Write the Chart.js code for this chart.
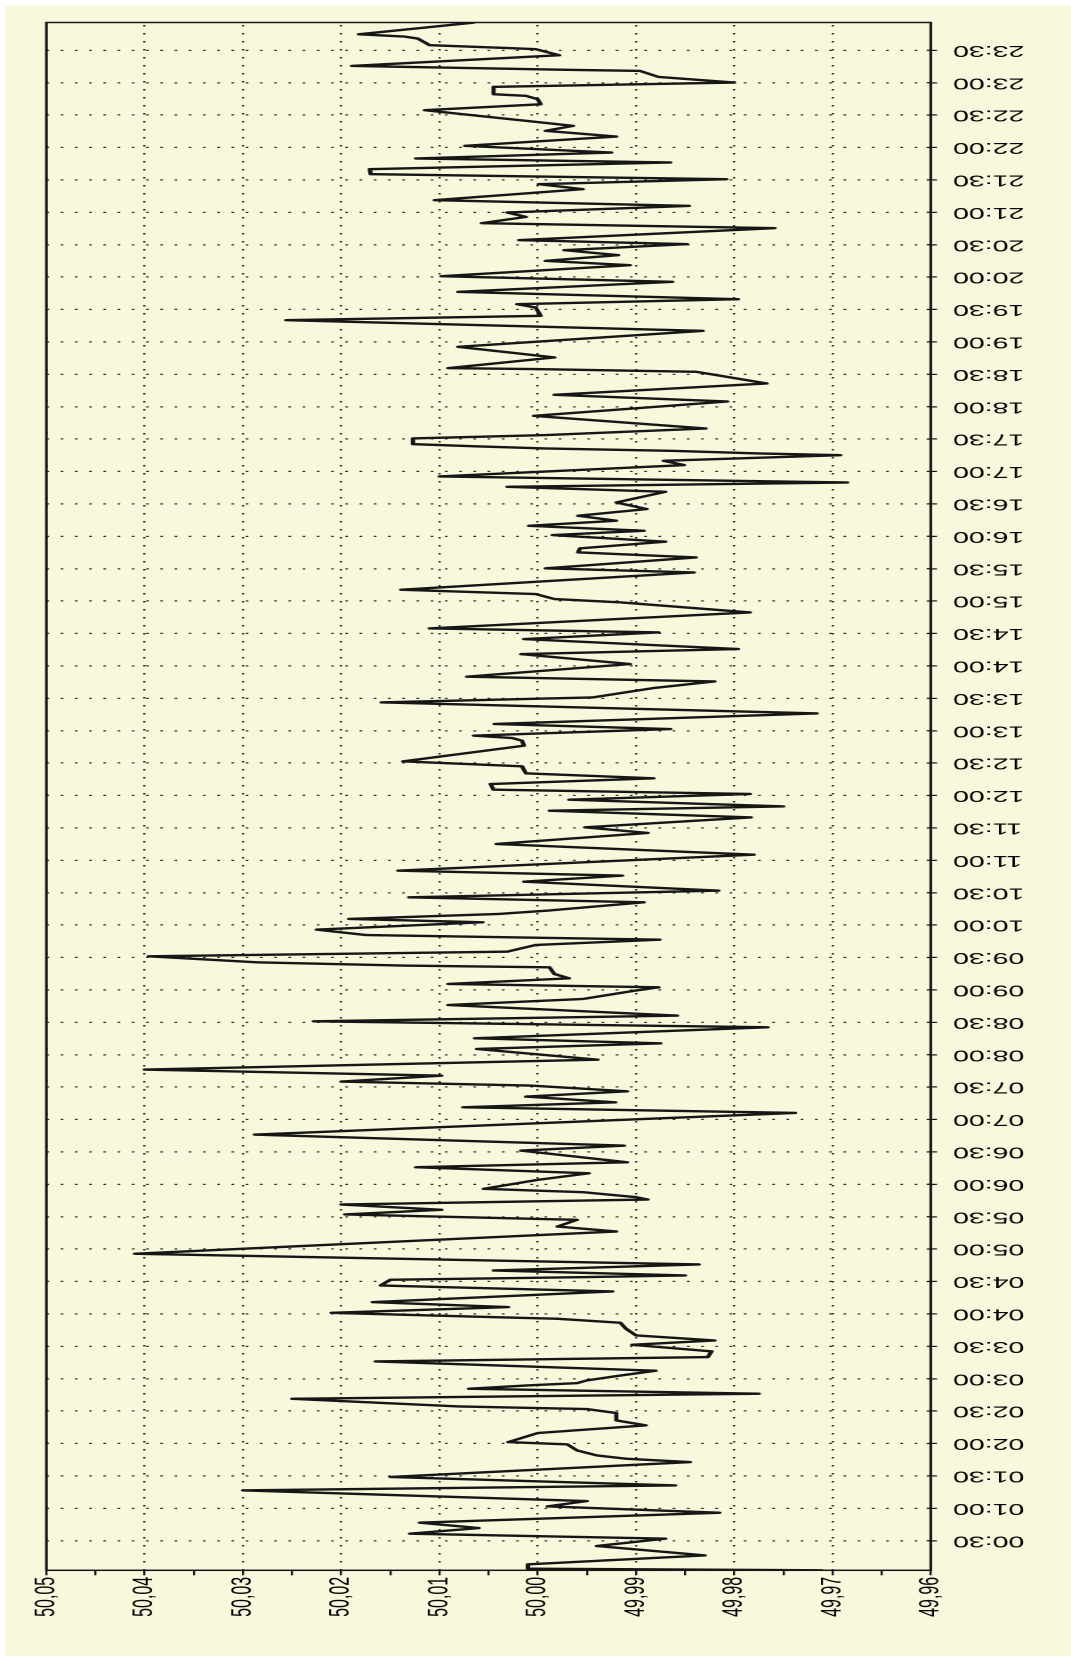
<!DOCTYPE html>
<html>
<head>
<meta charset="utf-8">
<script src="https://cdn.jsdelivr.net/npm/chart.js@4.4.1/dist/chart.umd.min.js"></script>
<style>
  html, body { margin: 0; padding: 0; background: #ffffff; width: 1071px; height: 1656px; overflow: hidden; }
  #paper { position: absolute; left: 5px; top: 6px; width: 1066px; height: 1650px; background: #F8F8DC; }
  /* the chart is laid out landscape and turned a quarter turn, stretched across the page width */
  #turn { position: absolute; left: 0; top: 0; width: 1656px; height: 602px;
          transform-origin: 0 0; transform: matrix(0, -1, 1.779, 0, 0, 1656); }
  canvas { display: block; }
</style>
</head>
<body>
<div id="paper"></div>
<div id="turn"><canvas id="c" width="1656" height="602"></canvas></div>
<script>
// Grid frequency over the day: sample time (minutes after midnight) and frequency in Hz
const minutes = [
  2.6, 4.1, 8.1, 16.4, 25.1, 31.9, 36.5, 41.7, 46.7, 55.9,
  61.8, 66.7, 76.6, 81.2, 89.0, 102.8, 105.9, 109.0, 113.6, 119.2,
  121.3, 129.7, 136.8, 141.4, 148.2, 151.9, 154.3, 159.3, 161.4, 166.1,
  170.7, 173.8, 175.9, 178.4,
  182.4, 187.4, 196.0, 200.0, 205.3, 211.4, 215.4, 220.1, 226.2, 231.8,
  235.5, 237.0, 241.0, 246.3, 250.9, 260.8, 266.3, 271.6, 274.1, 275.6,
  280.2, 285.8, 295.7, 316.3, 320.9, 327.1, 332.1, 336.4, 341.3, 345.9,
  348.1, 352.7, 355.8,
  364.1, 370.2, 375.8, 380.4, 391.2, 395.8, 406.0, 426.1, 431.3, 435.9,
  441.2, 446.1, 451.4, 455.1, 460.6, 466.2, 475.4, 485.3, 490.5, 495.2,
  505.4, 510.9, 516.2, 526.0, 531.6, 539.3,
  542.4, 545.5, 550.7, 554.7, 560.9, 562.5, 565.5, 571.1, 575.4, 581.6,
  586.5, 590.8, 595.8, 602.6, 605.7, 610.3, 613.4, 621.1, 625.7, 631.9,
  640.2, 645.8, 650.4, 665.2, 675.1, 685.3, 690.5, 699.7, 705.9, 709.9,
  716.1,
  721.4, 725.4, 730.6, 735.9, 740.5, 747.0, 751.6, 766.1, 770.7, 773.2,
  775.4, 781.5, 786.2, 796.0, 806.2, 810.8, 819.5, 825.6, 830.0, 841.7,
  850.9, 855.6, 864.8, 871.0, 874.7, 889.5, 898.8,
  901.9, 906.5, 910.5, 926.5, 930.3, 940.4, 945.1, 948.8, 955.0, 961.1,
  965.1, 969.7, 974.4, 979.0, 985.2, 991.3, 1001.2, 1005.8, 1009.8, 1015.4,
  1025.9, 1029.9, 1035.1, 1036.7, 1039.1, 1041.3, 1043.2, 1045.3, 1050.6, 1053.7,
  1059.8, 1071.5,
  1084.8, 1091.0, 1101.5, 1110.1, 1112.3, 1114.8, 1115.7, 1125.6, 1135.4, 1150.2,
  1160.1, 1164.1, 1171.8, 1174.9, 1179.5, 1186.3, 1195.6, 1200.8, 1211.0, 1215.0,
  1220.3, 1224.9, 1230.5, 1234.2, 1245.3, 1249.9, 1255.7,
  1259.8, 1265.9, 1271.2, 1281.4, 1286.0, 1290.6, 1295.3, 1299.9, 1306.1, 1309.8,
  1315.3, 1321.5, 1330.1, 1335.4, 1340.0, 1343.7, 1354.5, 1360.0, 1364.7, 1367.8,
  1369.3, 1376.1, 1380.1, 1385.3, 1390.9, 1391.8, 1395.5, 1405.4, 1411.0, 1411.9,
  1414.7, 1420.8, 1422.7, 1424.8, 1435.7
];

const freqHz = [
  49.971, 50.001, 50.001, 49.983, 49.994, 49.987, 50.013, 50.006, 50.012, 49.9815,
  49.999, 49.995, 50.030, 49.986, 50.015, 49.9845, 49.991, 49.994, 49.996, 49.997,
  50.003, 50.000, 49.989, 49.992, 49.992, 49.995, 50.008, 50.020, 50.025, 49.9775,
  50.007, 50.001, 49.996, 49.995,
  49.992, 49.988, 50.0165, 49.9827, 49.9823, 49.9904, 49.982, 49.990, 49.991, 49.9916,
  49.998, 50.0045, 50.021, 50.003, 50.0168, 49.9924, 50.016, 50.015, 49.995, 49.985,
  50.0045, 49.9836, 50.041, 49.992, 49.998, 49.996, 50.0196, 50.0098, 50.020, 49.9888,
  49.990, 49.9954, 50.0055,
  50.000, 49.9948, 50.0124, 49.9909, 50.0017, 49.9912, 50.0288, 49.9738, 50.0076, 49.9921,
  50.0012, 49.9909, 50.0007, 50.020, 50.0098, 50.040, 49.9939, 50.0062, 49.9875, 50.0064,
  49.9766, 50.0228, 49.9858, 50.0091, 49.9954, 49.9901,
  49.9877, 50.0091, 49.9968, 49.9983, 49.9988, 50.0136, 50.0285, 50.0396, 50.0031, 50.0002,
  49.9876, 50.0175, 50.0225, 50.0056, 50.0192, 50.004, 49.999, 49.9892, 50.0131, 49.9816,
  50.0014, 49.9914, 50.0142, 49.978, 50.0042, 49.9888, 49.9952, 49.9783, 49.9988, 49.975,
  49.9968,
  49.9784, 50.0045, 50.0048, 49.9882, 50.0012, 50.0016, 50.0137, 50.0014, 50.0016, 50.0026,
  50.0065, 49.9865, 50.0044, 49.9716, 50.0159, 49.9944, 49.9882, 49.982, 50.0072, 49.9906,
  50.0017, 49.9796, 50.0014, 49.9877, 50.011, 49.9784, 49.9916,
  49.9983, 50.0002, 50.0139, 49.9841, 49.9992, 49.9839, 49.9959, 49.9957, 49.987, 49.9985,
  49.9892, 50.0009, 49.992, 49.9959, 49.9889, 49.992, 49.987, 50.0031, 49.9685, 50.010,
  49.9851, 49.9872, 49.9692, 49.9776, 49.9863, 49.9992, 50.006, 50.0127, 50.0127, 49.9992,
  49.9829, 50.0004,
  49.9807, 49.9983, 49.9767, 49.9824, 49.9839, 50.0002, 50.0091, 49.9983, 50.0081, 49.9832,
  50.0256, 49.9997, 50.0002, 50.0021, 49.9796, 50.0081, 49.9863, 50.0098, 49.9906, 49.9992,
  49.9918, 49.9973, 49.9848, 50.0019, 49.9759, 50.0057, 50.0012,
  50.0031, 49.9846, 50.0105, 49.9954, 49.9999, 49.9808, 50.017, 50.0171, 49.9865, 50.0124,
  49.9925, 50.0074, 49.992, 49.9992, 49.9964, 50.0002, 50.0115, 49.9997, 50.000, 50.0012,
  50.0045, 50.0045, 49.980, 49.9877, 49.9896, 49.9964, 50.0189, 49.9978, 50.0002, 50.0026,
  50.011, 50.0122, 50.0136, 50.0182, 50.0064
];

// Time axis labels, one every half hour
const timeLabels = [
  '00:30', '01:00', '01:30', '02:00', '02:30', '03:00', '03:30', '04:00', '04:30', '05:00',
  '05:30', '06:00', '06:30', '07:00', '07:30', '08:00', '08:30', '09:00', '09:30', '10:00',
  '10:30', '11:00', '11:30', '12:00', '12:30', '13:00', '13:30', '14:00', '14:30', '15:00',
  '15:30', '16:00', '16:30', '17:00', '17:30', '18:00', '18:30', '19:00', '19:30', '20:00',
  '20:30', '21:00', '21:30', '22:00', '22:30', '23:00', '23:30'
];

// Frequency axis labels (Hz)
const freqLabels = ['49,96', '49,97', '49,98', '49,99', '50,00', '50,01', '50,02', '50,03', '50,04', '50,05'];

const timeRange = [2.6, 1435.7];

const toMinutes = s => { const [h, m] = s.split(':').map(Number); return h * 60 + m; };
const tickMinutes = timeLabels.map(toMinutes);
const freqMajor = freqLabels.map(s => parseFloat(s.replace(',', '.')));
// major ticks with a small unlabelled tick halfway between each pair
const freqTicks = [];
freqMajor.forEach((v, i) => {
  freqTicks.push({ value: v, major: true });
  if (i < freqMajor.length - 1) freqTicks.push({ value: (v + freqMajor[i + 1]) / 2, major: false });
});

const FONT = { family: "'Liberation Sans', Arial, sans-serif", size: 16 };
const INK = '#161616';

// plot frame plus the short inner stubs of the time ticks
const framePlugin = {
  id: 'frame',
  afterDraw(chart) {
    const { ctx, chartArea: a } = chart;
    const xs = chart.scales.x;
    ctx.save();
    ctx.strokeStyle = INK;
    ctx.lineWidth = 1.2;
    ctx.beginPath();
    xs.ticks.forEach(t => {
      const p = xs.getPixelForValue(t.value);
      ctx.moveTo(p, a.bottom);
      ctx.lineTo(p, a.bottom - 2.3);
    });
    ctx.stroke();
    ctx.lineWidth = 1.5;
    ctx.strokeRect(a.left, a.top, a.right - a.left, a.bottom - a.top);
    ctx.restore();
  }
};

new Chart(document.getElementById('c'), {
  type: 'line',
  data: {
    datasets: [{
      data: minutes.map((m, i) => ({ x: m, y: freqHz[i] })),
      borderColor: INK,
      borderWidth: 2.4,
      borderJoinStyle: 'round',
      pointRadius: 0,
      tension: 0,
      fill: false
    }]
  },
  options: {
    responsive: false,
    animation: false,
    devicePixelRatio: 2,
    parsing: false,
    layout: { padding: { left: 0, right: 22.5, top: 26.1, bottom: 0 } },
    plugins: { legend: { display: false }, tooltip: { enabled: false } },
    scales: {
      x: {
        type: 'linear',
        position: 'bottom',
        min: timeRange[0],
        max: timeRange[1],
        afterBuildTicks: s => { s.ticks = tickMinutes.map(v => ({ value: v })); },
        afterFit: s => { s.height = 78.8; },
        ticks: {
          autoSkip: false, minRotation: 90, maxRotation: 90, padding: 9,
          color: '#000', font: FONT,
          callback: (v, i) => timeLabels[i]
        },
        grid: { color: '#2a2a2a', lineWidth: 1.2, tickLength: 3.5, tickColor: INK, tickWidth: 1.2 },
        border: { display: false, dash: [1.5, 6.5] }
      },
      y: {
        type: 'linear',
        min: freqMajor[0],
        max: freqMajor[freqMajor.length - 1],
        afterBuildTicks: s => { s.ticks = freqTicks.map(t => ({ value: t.value })); },
        afterFit: s => { s.width = 85.7; },
        ticks: {
          autoSkip: false, padding: 1.5, color: '#000', font: FONT,
          callback: (v, i) => (freqTicks[i].major ? freqLabels[i / 2] : '')
        },
        grid: {
          color: c => (freqTicks[c.index] && freqTicks[c.index].major ? '#2a2a2a' : 'rgba(0,0,0,0)'),
          lineWidth: 1.2, tickLength: 5, tickColor: INK, tickWidth: 1.2
        },
        border: { display: false, dash: [1.5, 6.5] }
      }
    }
  },
  plugins: [framePlugin]
});
</script>
</body>
</html>
